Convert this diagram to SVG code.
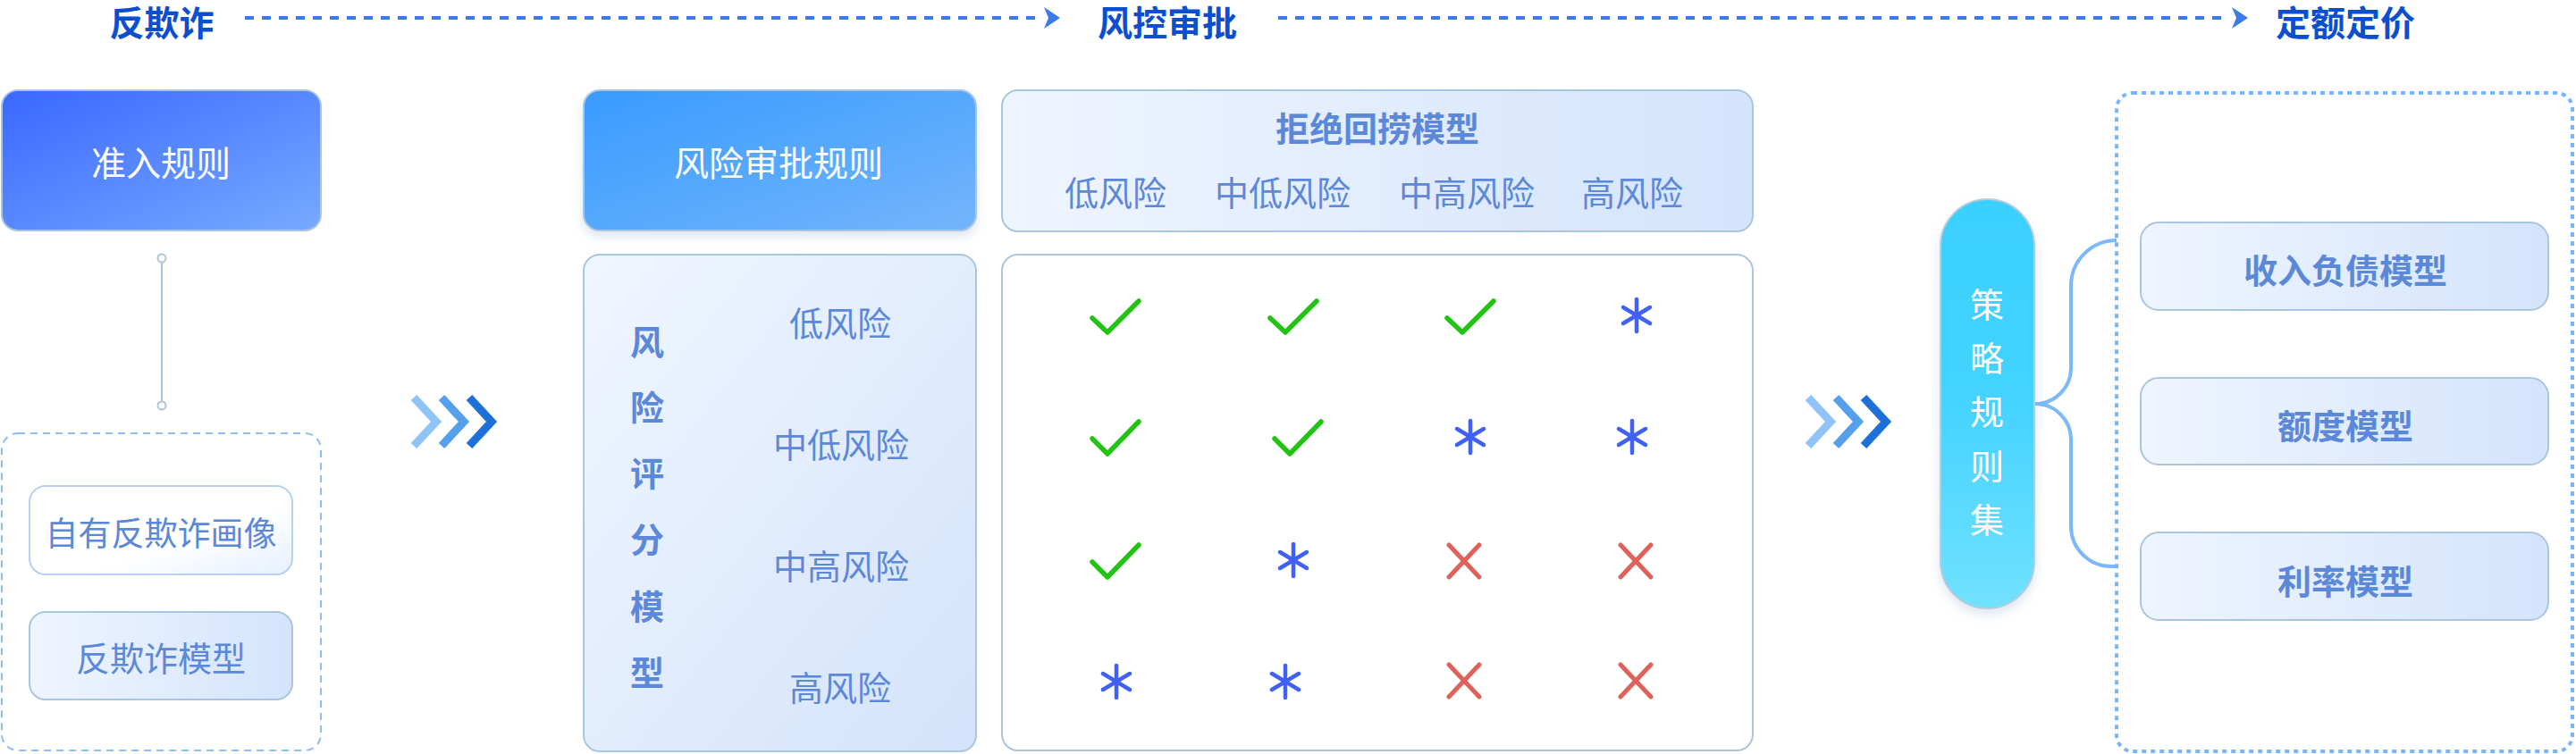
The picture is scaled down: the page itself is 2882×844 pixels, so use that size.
<svg xmlns="http://www.w3.org/2000/svg" width="2882" height="844" viewBox="0 0 2882 844">
<defs>
<linearGradient id="gBlue1" x1="0" y1="0" x2="1" y2="1"><stop offset="0" stop-color="#3a67ff"/><stop offset="1" stop-color="#77aaff"/></linearGradient>
<linearGradient id="gBlue2" x1="0" y1="0" x2="1" y2="1"><stop offset="0" stop-color="#389bff"/><stop offset="1" stop-color="#74b5fb"/></linearGradient>
<linearGradient id="gLight" x1="0" y1="0" x2="1" y2="1"><stop offset="0" stop-color="#f0f6ff"/><stop offset="1" stop-color="#d3e3fb"/></linearGradient>
<linearGradient id="gLightH" x1="0" y1="0" x2="1" y2="0"><stop offset="0" stop-color="#eff5ff"/><stop offset="1" stop-color="#d4e4fc"/></linearGradient>
<linearGradient id="gWhite" x1="0" y1="0" x2="1" y2="1"><stop offset="0" stop-color="#ffffff"/><stop offset="0.6" stop-color="#ffffff"/><stop offset="1" stop-color="#e6f0ff"/></linearGradient>
<linearGradient id="gPill" x1="0" y1="0" x2="0" y2="1"><stop offset="0" stop-color="#3ad0ff"/><stop offset="0.5" stop-color="#44d3ff"/><stop offset="1" stop-color="#72e1ff"/></linearGradient>
<filter id="sh" x="-10%" y="-10%" width="120%" height="130%"><feDropShadow dx="0" dy="6" stdDeviation="6" flood-color="#7a9cc8" flood-opacity="0.25"/></filter>
</defs>
<style>
text{font-family:"Noto Sans CJK SC","Noto Sans",sans-serif;text-anchor:middle;dominant-baseline:central}
.hd{font-size:39px;font-weight:700;fill:#0b4fd0}
.wt{font-size:38px;fill:#ffffff}
.lb{font-size:38px;fill:#5b88d8}
.bd{font-size:38px;font-weight:700;fill:#5b88d8}
.box{stroke:#a9c6de;stroke-width:2}
.hdash{fill:none;stroke:#3a7be8;stroke-width:4;stroke-dasharray:10 9}
.chk{fill:none;stroke:#22c414;stroke-width:5.5;stroke-linecap:round;stroke-linejoin:round}
.ast{fill:none;stroke:#4060f6;stroke-width:4.5;stroke-linecap:round}
.crs{fill:none;stroke:#e0605c;stroke-width:5;stroke-linecap:round}
.chev{fill:none;stroke-width:9;stroke-linejoin:miter;stroke-miterlimit:10}
</style>

<g id="header">
<text class="hd" x="181" y="23">反欺诈</text>
<text class="hd" x="1306" y="23">风控审批</text>
<text class="hd" x="2624" y="23">定额定价</text>
</g>

<g id="connectors">
<line class="hdash" x1="274" y1="20" x2="1164" y2="20"/>
<polygon points="1168,8 1186,20 1168,32 1173,20" fill="#3a7be8"/>
<line class="hdash" x1="1430" y1="20" x2="2494" y2="20"/>
<polygon points="2497,8 2515,20 2497,32 2502,20" fill="#3a7be8"/>
<line x1="181" y1="293" x2="181" y2="450" stroke="#a9c6de" stroke-width="2"/>
<circle cx="181" cy="289" r="4.5" fill="#fff" stroke="#a9c6de" stroke-width="2"/>
<circle cx="181" cy="454" r="4.5" fill="#fff" stroke="#a9c6de" stroke-width="2"/>
<g id="chevrons1">
<polyline class="chev" stroke="#8fc3f9" points="463,445 488,472 463,499"/>
<polyline class="chev" stroke="#55a0ec" points="494,445 519,472 494,499"/>
<polyline class="chev" stroke="#1c70d8" points="525,445 550,472 525,499"/>
</g>
<g id="chevrons2">
<polyline class="chev" stroke="#8fc3f9" points="2023,445 2048,472 2023,499"/>
<polyline class="chev" stroke="#55a0ec" points="2054,445 2079,472 2054,499"/>
<polyline class="chev" stroke="#1c70d8" points="2085,445 2110,472 2085,499"/>
</g>
<path d="M2368,269 A51,51 0 0 0 2317,320 V412 A40,40 0 0 1 2277,452 A40,40 0 0 1 2317,492 V589 A45,45 0 0 0 2362,634 H2368" fill="none" stroke="#7db8fb" stroke-width="4"/>
</g>

<g id="n-entry">
<rect x="2" y="101" width="357" height="157" rx="18" fill="url(#gBlue1)" class="box"/>
<text class="wt" x="180" y="180" style="font-size:39px">准入规则</text>
</g>

<g id="n-antifraud-group">
<rect x="2" y="485" width="357" height="355" rx="18" fill="none" stroke="#8cbdf6" stroke-width="2" stroke-dasharray="8 6"/>
</g>
<g id="n-profile">
<rect x="33" y="544" width="294" height="99" rx="18" fill="url(#gWhite)" stroke="#b6d1f4" stroke-width="2"/>
<text class="lb" x="180" y="595" style="font-size:37px">自有反欺诈画像</text>
</g>
<g id="n-afmodel">
<rect x="33" y="685" width="294" height="98" rx="18" fill="url(#gLightH)" class="box"/>
<text class="lb" x="180" y="734">反欺诈模型</text>
</g>

<g id="n-riskrule">
<rect x="653" y="101" width="439" height="157" rx="18" fill="url(#gBlue2)" class="box" filter="url(#sh)"/>
<text class="wt" x="871" y="180" style="font-size:39px">风险审批规则</text>
</g>

<g id="n-score">
<rect x="653" y="285" width="439" height="556" rx="18" fill="url(#gLight)" class="box"/>
<text class="bd" x="724" y="380">风</text>
<text class="bd" x="724" y="453">险</text>
<text class="bd" x="724" y="527">评</text>
<text class="bd" x="724" y="601">分</text>
<text class="bd" x="724" y="676">模</text>
<text class="bd" x="724" y="750">型</text>
<text class="lb" x="940" y="359">低风险</text>
<text class="lb" x="941" y="495">中低风险</text>
<text class="lb" x="941" y="631">中高风险</text>
<text class="lb" x="940" y="767">高风险</text>
</g>

<g id="n-reject">
<rect x="1121" y="101" width="840" height="158" rx="18" fill="url(#gLightH)" class="box"/>
<text class="bd" x="1541" y="141">拒绝回捞模型</text>
<text class="lb" x="1248" y="213">低风险</text>
<text class="lb" x="1435" y="213">中低风险</text>
<text class="lb" x="1641" y="213">中高风险</text>
<text class="lb" x="1826" y="213">高风险</text>
</g>

<g id="n-matrix">
<rect x="1121" y="285" width="840" height="555" rx="18" fill="#ffffff" class="box"/>
<g id="r1">
<polyline class="chk" points="1222,356 1239,372 1274,337"/>
<polyline class="chk" points="1421,356 1438,372 1473,337"/>
<polyline class="chk" points="1619,356 1636,372 1671,337"/>
<g class="ast" transform="translate(1831,353)"><line x1="0" y1="-18" x2="0" y2="18"/><line x1="-15" y1="-9" x2="15" y2="9"/><line x1="-15" y1="9" x2="15" y2="-9"/></g>
</g>
<g id="r2">
<polyline class="chk" points="1222,491 1239,508 1274,472"/>
<polyline class="chk" points="1426,491 1443,508 1478,472"/>
<g class="ast" transform="translate(1645,489)"><line x1="0" y1="-18" x2="0" y2="18"/><line x1="-15" y1="-9" x2="15" y2="9"/><line x1="-15" y1="9" x2="15" y2="-9"/></g>
<g class="ast" transform="translate(1826,489)"><line x1="0" y1="-18" x2="0" y2="18"/><line x1="-15" y1="-9" x2="15" y2="9"/><line x1="-15" y1="9" x2="15" y2="-9"/></g>
</g>
<g id="r3">
<polyline class="chk" points="1222,629 1239,646 1274,610"/>
<g class="ast" transform="translate(1447,627)"><line x1="0" y1="-18" x2="0" y2="18"/><line x1="-15" y1="-9" x2="15" y2="9"/><line x1="-15" y1="9" x2="15" y2="-9"/></g>
<g class="crs" transform="translate(1638,628)"><line x1="-17" y1="-18" x2="17" y2="18"/><line x1="17" y1="-18" x2="-17" y2="18"/></g>
<g class="crs" transform="translate(1830,628)"><line x1="-17" y1="-18" x2="17" y2="18"/><line x1="17" y1="-18" x2="-17" y2="18"/></g>
</g>
<g id="r4">
<g class="ast" transform="translate(1249,763)"><line x1="0" y1="-18" x2="0" y2="18"/><line x1="-15" y1="-9" x2="15" y2="9"/><line x1="-15" y1="9" x2="15" y2="-9"/></g>
<g class="ast" transform="translate(1438,763)"><line x1="0" y1="-18" x2="0" y2="18"/><line x1="-15" y1="-9" x2="15" y2="9"/><line x1="-15" y1="9" x2="15" y2="-9"/></g>
<g class="crs" transform="translate(1638,762)"><line x1="-17" y1="-18" x2="17" y2="18"/><line x1="17" y1="-18" x2="-17" y2="18"/></g>
<g class="crs" transform="translate(1830,762)"><line x1="-17" y1="-18" x2="17" y2="18"/><line x1="17" y1="-18" x2="-17" y2="18"/></g>
</g>
</g>

<g id="n-strategy">
<rect x="2171" y="223" width="105" height="458" rx="52.5" fill="url(#gPill)" stroke="#b9cadb" stroke-width="2" filter="url(#sh)"/>
<text class="wt" x="2223" y="338">策</text>
<text class="wt" x="2223" y="398">略</text>
<text class="wt" x="2223" y="458">规</text>
<text class="wt" x="2223" y="519">则</text>
<text class="wt" x="2223" y="579">集</text>
</g>

<g id="n-pricing-group">
<rect x="2368" y="104" width="510" height="737" rx="18" fill="none" stroke="#7ab5fb" stroke-width="4" stroke-dasharray="5 5"/>
</g>
<g id="n-income">
<rect x="2395" y="249" width="456" height="98" rx="20" fill="url(#gLightH)" class="box"/>
<text class="bd" x="2624" y="300">收入负债模型</text>
</g>
<g id="n-quota">
<rect x="2395" y="423" width="456" height="97" rx="20" fill="url(#gLightH)" class="box"/>
<text class="bd" x="2624" y="474">额度模型</text>
</g>
<g id="n-rate">
<rect x="2395" y="596" width="456" height="98" rx="20" fill="url(#gLightH)" class="box"/>
<text class="bd" x="2624" y="648">利率模型</text>
</g>
</svg>
